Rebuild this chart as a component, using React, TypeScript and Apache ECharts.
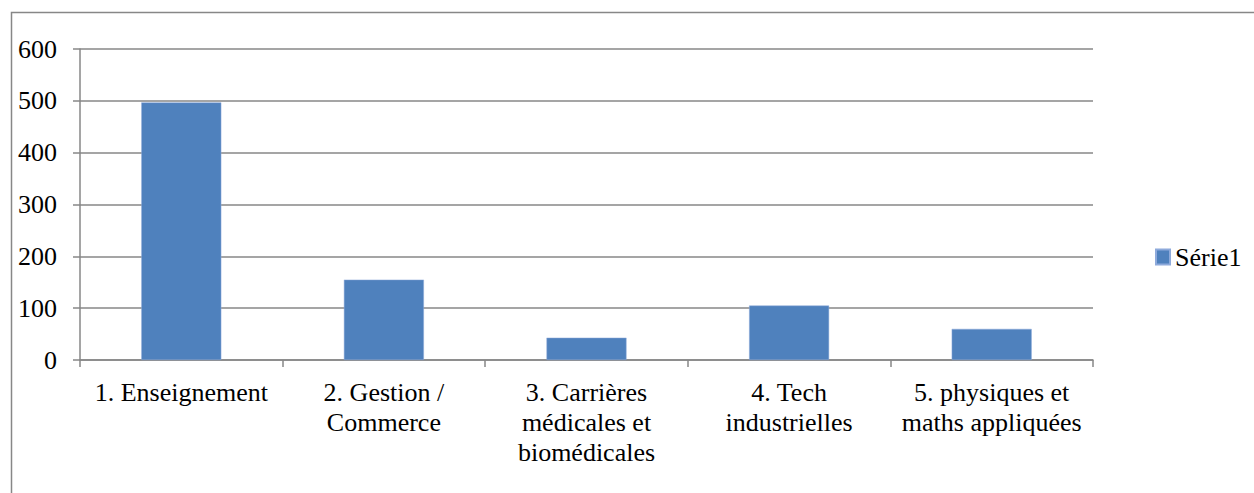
import React, { useEffect, useRef } from "react";
import * as echarts from "echarts";

const categories = [
  "1. Enseignement",
  "2. Gestion /\nCommerce",
  "3. Carrières\nmédicales et\nbiomédicales",
  "4. Tech\nindustrielles",
  "5. physiques et\nmaths appliquées",
];
const seriesName = "Série1";
const values = [497, 155, 43, 105, 60];
const yMin = 0;
const yMax = 600;
const yInterval = 100;

const FONT = "Liberation Serif";
const GRAY = "#878787";

export default function App() {
  const ref = useRef<HTMLDivElement>(null);
  useEffect(() => {
    if (!ref.current) return;
    const chart = echarts.init(ref.current, null, { renderer: "svg" });
    chart.setOption({
      animation: false,
      backgroundColor: "#ffffff",
      textStyle: { fontFamily: FONT },
      graphic: [
        {
          type: "rect",
          shape: { x: 11.5, y: 12.5, width: 1400, height: 700 },
          style: { fill: "none", stroke: GRAY, lineWidth: 1.5 },
          silent: true,
        },
      ],
      grid: { left: 80, right: 161, top: 49, bottom: 133, containLabel: false },
      legend: {
        data: [seriesName],
        left: 1150,
        top: 239,
        orient: "vertical",
        icon: "rect",
        itemWidth: 14,
        itemHeight: 15,
        textStyle: { fontFamily: FONT, fontSize: 26, color: "#000" },
      },
      xAxis: {
        type: "category",
        data: categories,
        boundaryGap: true,
        axisLine: { show: true, lineStyle: { color: GRAY, width: 1.5 } },
        axisTick: { show: true, length: 7, alignWithLabel: false, lineStyle: { color: GRAY, width: 1.5 } },
        axisLabel: {
          interval: 0,
          margin: 17,
          fontFamily: FONT,
          fontSize: 26,
          lineHeight: 30,
          color: "#000",
          align: "center",
        },
      },
      yAxis: {
        type: "value",
        min: yMin,
        max: yMax,
        interval: yInterval,
        axisLine: { show: true, lineStyle: { color: GRAY, width: 1.5 } },
        axisTick: { show: true, length: 7, lineStyle: { color: GRAY, width: 1.5 } },
        splitLine: { show: true, lineStyle: { color: GRAY, width: 1.5 } },
        axisLabel: { margin: 23, fontFamily: FONT, fontSize: 26, color: "#000" },
      },
      series: [
        {
          name: seriesName,
          type: "bar",
          data: values,
          barWidth: 80,
          itemStyle: { color: "#4F81BD", borderColor: "#8EAADB", borderWidth: 0.5 },
        },
      ],
    });
    return () => chart.dispose();
  }, []);
  return <div ref={ref} style={{ width: 1254, height: 493, position: "absolute", left: 0, top: 0 }} />;
}
